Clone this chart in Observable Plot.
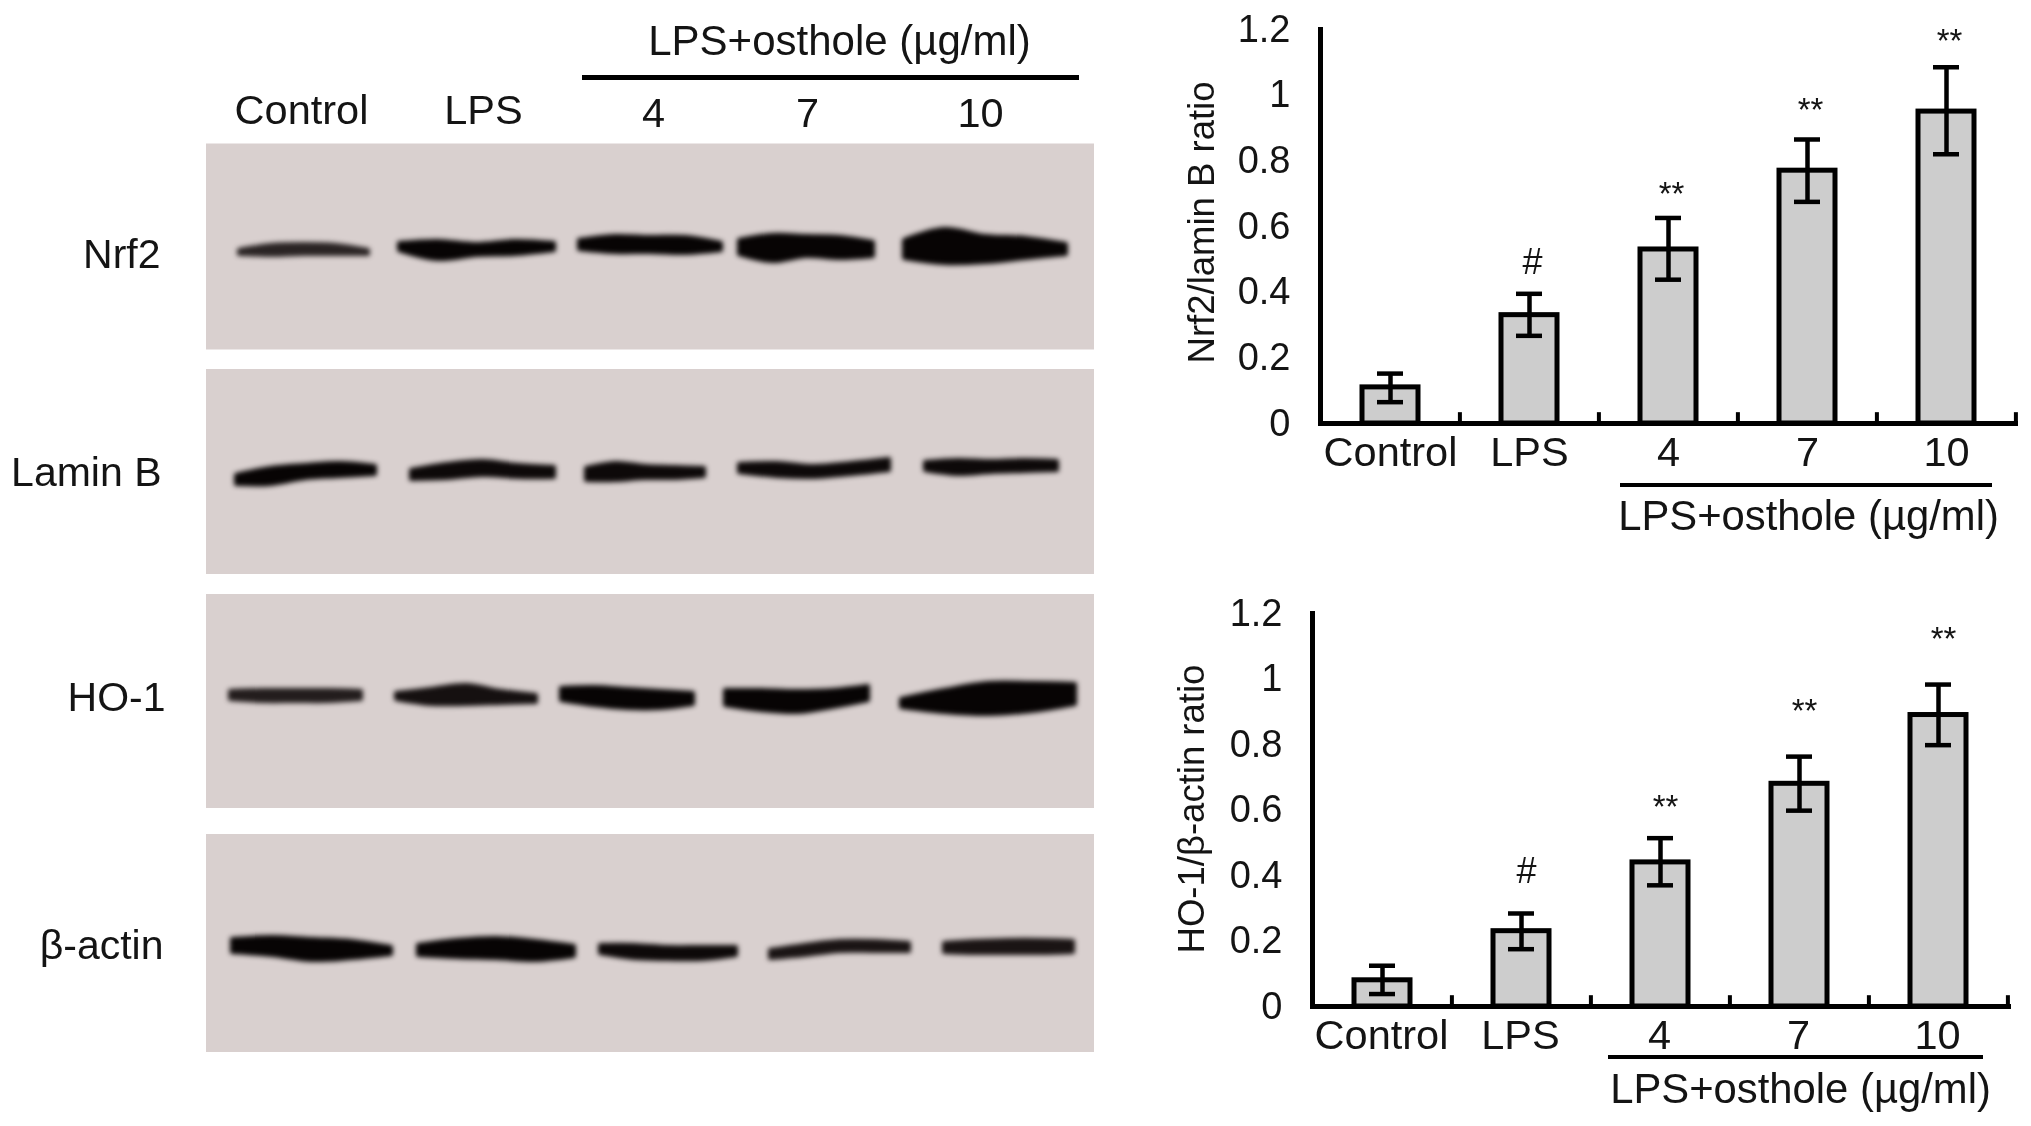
<!DOCTYPE html>
<html>
<head>
<meta charset="utf-8">
<script src="https://cdn.jsdelivr.net/npm/d3@7"></script>
<script src="https://cdn.jsdelivr.net/npm/@observablehq/plot@0.6"></script>
<style>
html,body{margin:0;padding:0;background:#fff;width:2031px;height:1126px;overflow:hidden}
svg{position:absolute;overflow:visible;filter:blur(.5px)}
svg.bands{filter:blur(2.6px)}
</style>
</head>
<body>
<script>
// ---- bar chart data ----
const categories = ["Control", "LPS", "4", "7", "10"];
const groupLabel = "LPS+osthole (µg/ml)";
const yTicks = [0, 0.2, 0.4, 0.6, 0.8, 1, 1.2];
const nrf2Values = [0.11, 0.33, 0.53, 0.77, 0.95];
const nrf2Low = [0.065, 0.267, 0.438, 0.675, 0.82];
const nrf2High = [0.152, 0.395, 0.626, 0.865, 1.085];
const nrf2MarkY = [null, 0.49, 0.714, 0.97, 1.18];
const ho1Values = [0.08, 0.23, 0.44, 0.68, 0.89];
const ho1Low = [0.038, 0.175, 0.37, 0.598, 0.798];
const ho1High = [0.1245, 0.284, 0.514, 0.763, 0.983];
const ho1MarkY = [null, 0.412, 0.623, 0.915, 1.136];
const marks = ["", "#", "**", "**", "**"];

// ---- western blot data (gel position units) ----
const panelX = [206, 1094];
const panelTop = [143.5, 369, 594, 834];
const panelBottom = [349.5, 574, 808, 1052];
const rowLabels = ["Nrf2", "Lamin B", "HO-1", "β-actin"];
const rowLabelY = [254, 472, 697, 945];
const rowLabelRight = [160, 161, 165, 163];
const laneLabels = ["Control", "LPS", "4", "7", "10"];
const laneLabelX = [301, 483, 653, 807, 980];
const laneLabelY = [110, 110, 113, 113, 113];
// each band: [left, right, top samples, bottom samples, ink]
const nrf2Bands = [
  [239,368,[250,245,244,245,250],[254,255,254,254,254],"#2a2424"],
  [399,554,[243,241,244,241,243],[250,259,255,254,250],"#070404"],
  [579,721,[240,236,237,237,243],[249,252,252,253,250],"#070404"],
  [739,873,[240,235,236,237,242],[254,261,256,258,256],"#070404"],
  [904,1066,[240,229,236,238,244],[258,263,262,258,254],"#070404"]];
const laminBands = [
  [236,375,[475,468,465,463,466],[484,484,478,476,474],"#070404"],
  [411,554,[470,464,461,465,467],[479,478,475,477,477],"#0d0909"],
  [586,704,[468,463,466,467,468],[480,480,478,478,476],"#0d0909"],
  [739,889,[464,463,466,463,459],[472,476,477,474,470],"#0d0909"],
  [925,1057,[462,460,461,460,461],[470,474,472,471,470],"#0d0909"]];
const ho1Bands = [
  [230,361,[691,690,690,690,691],[699,701,701,701,699],"#231d1d"],
  [396,536,[693,689,685,691,695],[699,704,704,703,702],"#151010"],
  [561,693,[688,687,689,691,693],[700,705,708,708,704],"#070404"],
  [725,868,[690,690,691,690,686],[705,710,712,707,700],"#070404"],
  [901,1075,[699,690,683,683,684],[707,712,714,711,704],"#070404"]];
const actinBands = [
  [232,391,[939,937,939,941,947],[952,955,960,958,954],"#070404"],
  [418,574,[945,940,938,941,946],[955,957,958,960,956],"#070404"],
  [600,736,[945,945,947,947,947],[953,958,959,959,955],"#0d0909"],
  [770,909,[950,945,941,941,943],[958,955,951,951,951],"#1a1414"],
  [944,1073,[943,941,940,940,941],[952,953,953,953,952],"#1a1414"]];

const FONT = "'Liberation Sans', Arial, sans-serif";
const INK = "#141414";

// ---- blot figure ----
const bandPoints = [nrf2Bands, laminBands, ho1Bands, actinBands].flatMap((row, r) =>
  row.flatMap(([l, rr, top, bottom, ink], b) =>
    top.map((t, i) => ({id: r + "-" + b, x: l + (rr - l) * i / (top.length - 1), top: t, bottom: bottom[i], ink}))));
const panels = panelTop.map((t, i) => ({x1: panelX[0], x2: panelX[1], y1: t, y2: panelBottom[i]}));

const blotFrame = {
  width: 1130, height: 1126, margin: 0,
  x: {domain: [0, 1130], range: [0, 1130], axis: null},
  y: {domain: [0, 1126], range: [0, 1126], axis: null},
  style: {fontFamily: FONT, background: "transparent"}
};
const blotBack = Plot.plot({...blotFrame, marks: [
  Plot.rect(panels, {x1: "x1", x2: "x2", y1: "y1", y2: "y2", fill: "#d9d0cf"}),
  Plot.text(laneLabels, {x: (d, i) => laneLabelX[i], y: (d, i) => laneLabelY[i], text: d => d, fontSize: 41.5, fill: INK}),
  Plot.text(rowLabels, {x: (d, i) => rowLabelRight[i], y: (d, i) => rowLabelY[i], text: d => d, textAnchor: "end", fontSize: 41, fill: INK}),
  Plot.text([groupLabel], {x: 839, y: 41, text: d => d, fontSize: 42, fill: INK}),
  Plot.ruleY([77], {x1: 582, x2: 1079, stroke: "#000", strokeWidth: 5})
]});
const blotBands = Plot.plot({...blotFrame, marks: [
  Plot.areaY(bandPoints, {x: "x", y1: "top", y2: "bottom", z: "id", fill: "ink", stroke: "ink", strokeWidth: 4, strokeLinejoin: "round", curve: "catmull-rom"})
]});
blotBands.classList.add("bands");
for (const s of [blotBack, blotBands]) { s.style.left = "0px"; s.style.top = "0px"; document.body.appendChild(s); }

// ---- bar charts ----
function barChart({values, low, high, markY, title, left, right, top, zero, svgTop, svgHeight, titleDx, titleDy, lineDy, groupDy, lineL, lineR, groupDx, markDx, catDx}) {
  const rows = categories.map((c, i) => ({c, v: values[i], lo: low[i], hi: high[i], m: markY[i], s: marks[i]}));
  const svgLeft = 1130;
  const svg = Plot.plot({
    width: 901, height: svgHeight,
    marginLeft: left - svgLeft, marginRight: 2031 - right, marginTop: top - svgTop,
    marginBottom: svgHeight - (zero - svgTop),
    x: {domain: categories, paddingInner: 0.6, paddingOuter: 0.3, axis: null},
    y: {domain: [0, 1.2], axis: null},
    style: {fontFamily: FONT, background: "transparent"},
    marks: [
      Plot.barY(rows, {x: "c", y: "v", fill: "#cdcdcd", stroke: "#000", strokeWidth: 5}),
      Plot.ruleX(rows, {x: "c", y1: "lo", y2: "hi", stroke: "#000", strokeWidth: 4.5}),
      Plot.tickY(rows, {x: "c", y: "lo", stroke: "#000", strokeWidth: 4.5, insetLeft: 15, insetRight: 15}),
      Plot.tickY(rows, {x: "c", y: "hi", stroke: "#000", strokeWidth: 4.5, insetLeft: 15, insetRight: 15}),
      Plot.text(rows.filter(d => d.s === "#"), {x: "c", y: "m", text: "s", fontSize: 36, fill: INK, dx: markDx}),
      Plot.text(rows.filter(d => d.s === "**"), {x: "c", y: "m", text: "s", fontSize: 33, dy: 5, fill: INK, dx: markDx}),
      Plot.frame({anchor: "left", stroke: "#000", strokeWidth: 5}),
      Plot.frame({anchor: "bottom", stroke: "#000", strokeWidth: 5}),
      Plot.ruleX(categories, {x: d => d, y1: 0, y2: 0.033, dx: 69.4, stroke: "#000", strokeWidth: 4}),
      Plot.tickY(yTicks.slice(1), {y: d => d, x: categories[0], stroke: "#000", strokeWidth: 4, insetRight: 45, dx: -41.6}),
      Plot.text(yTicks, {y: d => d, text: d => String(d), frameAnchor: "left", textAnchor: "end", dx: -30, fontSize: 38, fill: INK}),
      Plot.text(categories, {x: d => d, y: 0, text: d => d, dy: 29.5, fontSize: 41.5, fill: INK, dx: catDx}),
      Plot.text([title], {y: 0.6, text: d => d, frameAnchor: "left", textAnchor: "middle", rotate: -90, dx: titleDx, dy: titleDy, fontSize: 36.5, fill: INK}),
      Plot.ruleY([0], {x1: () => "4", x2: () => "10", dy: lineDy, insetLeft: lineL, insetRight: lineR, stroke: "#000", strokeWidth: 4}),
      Plot.text([groupLabel], {x: () => "7", y: 0, text: d => d, dy: groupDy, dx: groupDx, fontSize: 41.8, fill: INK})
    ]
  });
  svg.style.left = svgLeft + "px";
  svg.style.top = svgTop + "px";
  document.body.appendChild(svg);
}

barChart({values: nrf2Values, low: nrf2Low, high: nrf2High, markY: nrf2MarkY, title: "Nrf2/lamin B ratio",
  left: 1320, right: 2015, top: 29, zero: 423, svgTop: 0, svgHeight: 560, titleDx: -118, titleDy: -4, lineDy: 61.6, groupDy: 93, lineL: -20, lineR: -18, groupDx: 1, markDx: 3, catDx: 0});
barChart({values: ho1Values, low: ho1Low, high: ho1High, markY: ho1MarkY, title: "HO-1/β-actin ratio",
  left: 1312, right: 2008, top: 613, zero: 1006, svgTop: 570, svgHeight: 556, titleDx: -120, titleDy: -1, lineDy: 50.5, groupDy: 83.5, lineL: -24, lineR: -17, groupDx: 1, markDx: 5, catDx: -1});
</script>
</body>
</html>
